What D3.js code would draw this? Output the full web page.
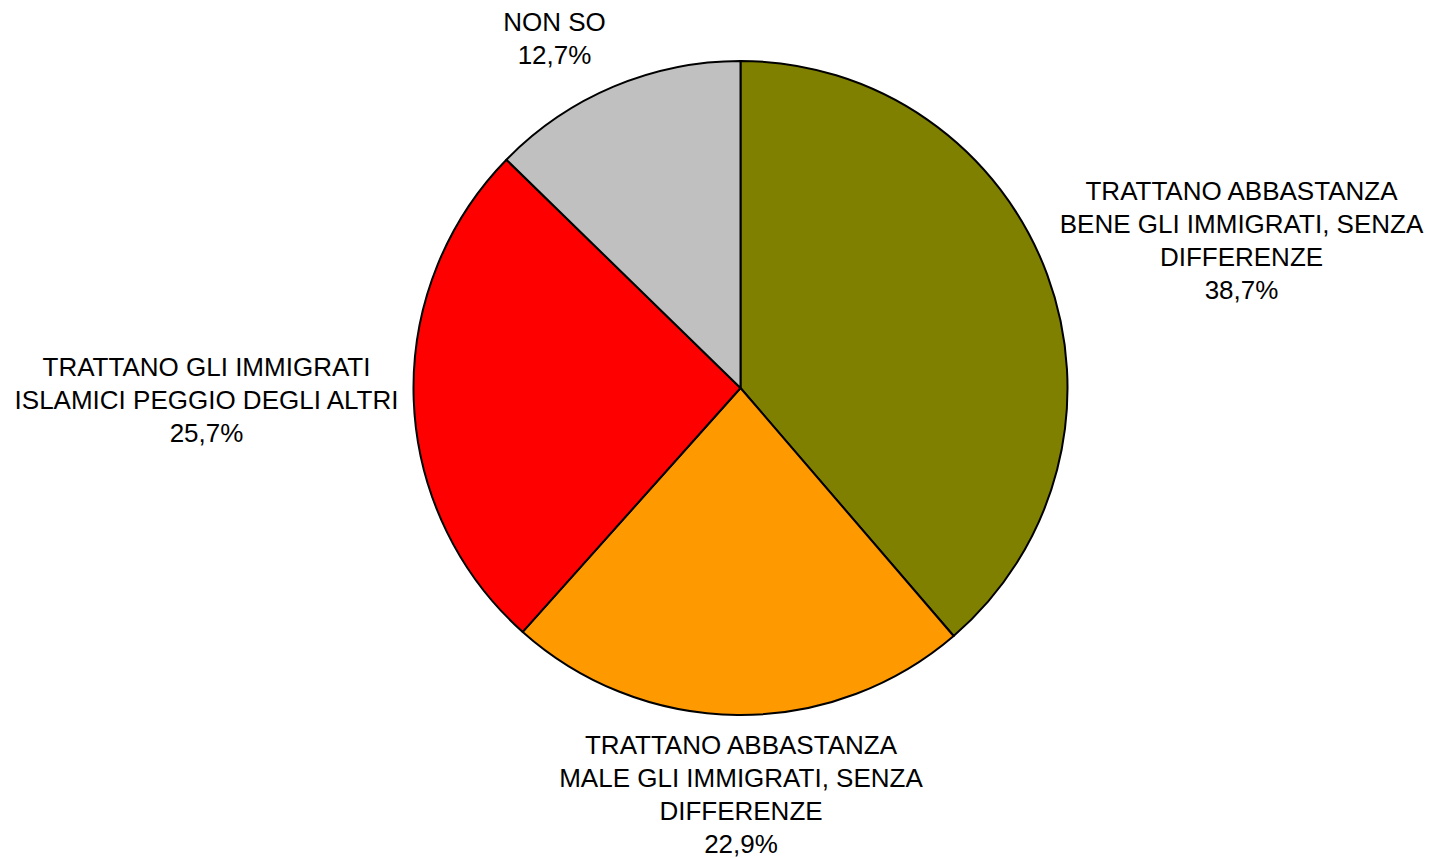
<!DOCTYPE html>
<html>
<head>
<meta charset="utf-8">
<script src="https://cdn.jsdelivr.net/npm/d3@7"></script>
<style>
  html, body { margin: 0; padding: 0; background: #ffffff; }
  svg { display: block; }
  text { font-family: "Liberation Sans", Arial, sans-serif; font-size: 26px; fill: #000; }
</style>
</head>
<body>
<svg id="chart" width="1430" height="858"></svg>
<script>
// Survey answers, clockwise from 12 o'clock
const categories = [
  ["TRATTANO ABBASTANZA", "BENE GLI IMMIGRATI, SENZA", "DIFFERENZE"],
  ["TRATTANO ABBASTANZA", "MALE GLI IMMIGRATI, SENZA", "DIFFERENZE"],
  ["TRATTANO GLI IMMIGRATI", "ISLAMICI PEGGIO DEGLI ALTRI"],
  ["NON SO"]
];
const values = [38.7, 22.9, 25.7, 12.7];
const colors = ["#808000", "#FF9900", "#FF0000", "#C0C0C0"];

// Where each label block sits (centre x, first baseline y)
const labelPos = [
  [1241.5, 200],
  [741, 754],
  [206.5, 376],
  [554.5, 31]
];

const svg = d3.select("#chart");
const cx = 740.5, cy = 388, r = 327;

const pie = d3.pie().sort(null).value(d => d)(values);
const arc = d3.arc().innerRadius(0).outerRadius(r);

const g = svg.append("g").attr("transform", `translate(${cx},${cy})`);
g.selectAll("path")
  .data(pie)
  .join("path")
  .attr("d", arc)
  .attr("fill", (d, i) => colors[i])
  .attr("stroke", "#000")
  .attr("stroke-width", 2)
  .attr("stroke-linejoin", "round");

const fmt = v => d3.format(".1f")(v).replace(".", ",") + "%";
const lineH = 33;

categories.forEach((lines, i) => {
  const t = svg.append("text")
    .attr("text-anchor", "middle")
    .attr("x", labelPos[i][0])
    .attr("y", labelPos[i][1]);
  lines.concat([fmt(values[i])]).forEach((s, k) => {
    t.append("tspan")
      .attr("x", labelPos[i][0])
      .attr("dy", k === 0 ? 0 : lineH)
      .text(s);
  });
});
</script>
</body>
</html>
